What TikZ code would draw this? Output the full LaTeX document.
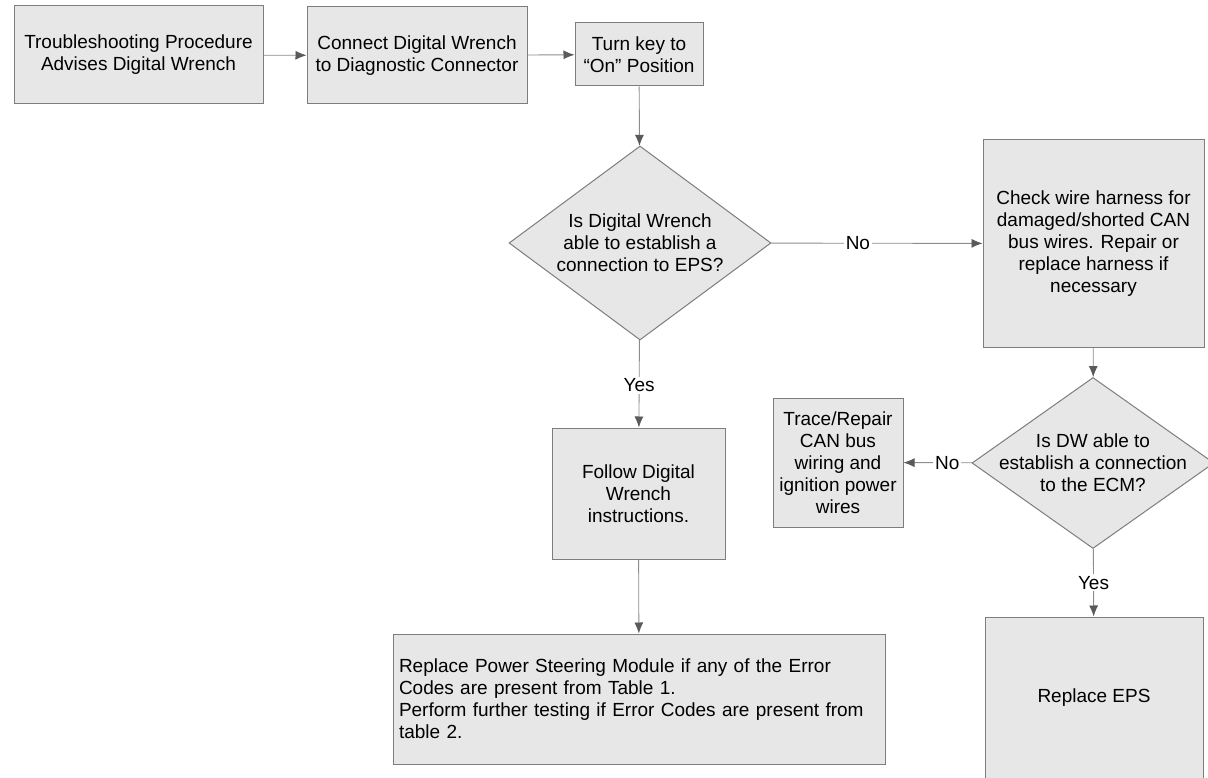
\documentclass[tikz,border=0pt]{standalone}
\usepackage{fontspec}
\setmainfont{Liberation Sans}
\usetikzlibrary{arrows.meta, shapes.geometric}

\definecolor{boxgray}{RGB}{231,231,231}
\definecolor{edgegray}{RGB}{125,125,125}
\definecolor{linegray}{RGB}{140,140,140}
\definecolor{tipgray}{RGB}{90,90,90}

\begin{document}
\begin{tikzpicture}[x=1pt, y=-1pt,
  font=\fontsize{19}{22}\selectfont,
  stepbox/.style={draw=edgegray, fill=boxgray, line width=1pt, align=center, inner sep=0pt},
  decision/.style={diamond, draw=edgegray, fill=boxgray, line width=1pt, inner sep=0pt},
  dtext/.style={align=center, inner sep=0pt},
  flow/.style={draw=linegray, line width=0.9pt, -{Latex[length=11pt,width=9pt,color=tipgray]}},
  lbl/.style={fill=white, inner sep=2pt}]

\useasboundingbox (0,0) rectangle (1208,778);

\node[stepbox, minimum width=249pt, minimum height=98pt] (advise) at (138.5,55) {Troubleshooting Procedure\\Advises Digital Wrench};
\node[stepbox, minimum width=220pt, minimum height=97pt] (connect) at (417,55.5) {Connect Digital Wrench\\to Diagnostic Connector};
\node[stepbox, minimum width=128pt, minimum height=63pt] (keyon) at (639,54.5) {Turn key to\\``On'' Position};

\node[decision, minimum width=262pt, minimum height=194pt,
  label={[dtext]center:{Is Digital Wrench\\able to establish a\\connection to EPS?}}] (askEPS) at (640,243) {};
\node[stepbox, minimum width=221pt, minimum height=207pt] (harness) at (1093.5,243.5) {Check wire harness for\\damaged/shorted CAN\\bus wires. Repair or\\replace harness if\\necessary};

\node[decision, minimum width=242pt, minimum height=171pt,
  label={[dtext]center:{Is DW able to\\establish a connection\\to the ECM?}}] (askECM) at (1093,463) {};
\node[stepbox, minimum width=130pt, minimum height=129pt] (trace) at (838,462.5) {Trace/Repair\\CAN bus\\wiring and\\ignition power\\wires};

\node[stepbox, minimum width=173pt, minimum height=131pt] (follow) at (638.5,493.5) {Follow Digital\\Wrench\\instructions.};
\node[stepbox, minimum width=492pt, minimum height=130pt, text width=480pt, align=left] (psm) at (639,699) {Replace Power Steering Module if any of the Error\\Codes are present from Table 1.\\Perform further testing if Error Codes are present from\\table 2.};
\node[stepbox, minimum width=218pt, minimum height=162pt] (eps) at (1094,698) {Replace EPS};

\draw[flow] (advise) -- (connect);
\draw[flow] (connect) -- (keyon);
\draw[flow] (keyon) -- (askEPS);
\draw[flow] (askEPS) -- node[lbl, pos=.41] (noEPS) {No} (harness);
\draw[flow] (harness) -- (askECM);
\draw[flow] (askECM) -- node[lbl, pos=.36] (noECM) {No} (trace);
\draw[flow] (askEPS) -- node[lbl, pos=.52] (yesEPS) {Yes} (follow);
\draw[flow] (follow) -- (psm);
\draw[flow] (askECM) -- node[lbl, pos=.5] (yesECM) {Yes} (eps);
\end{tikzpicture}
\end{document}
